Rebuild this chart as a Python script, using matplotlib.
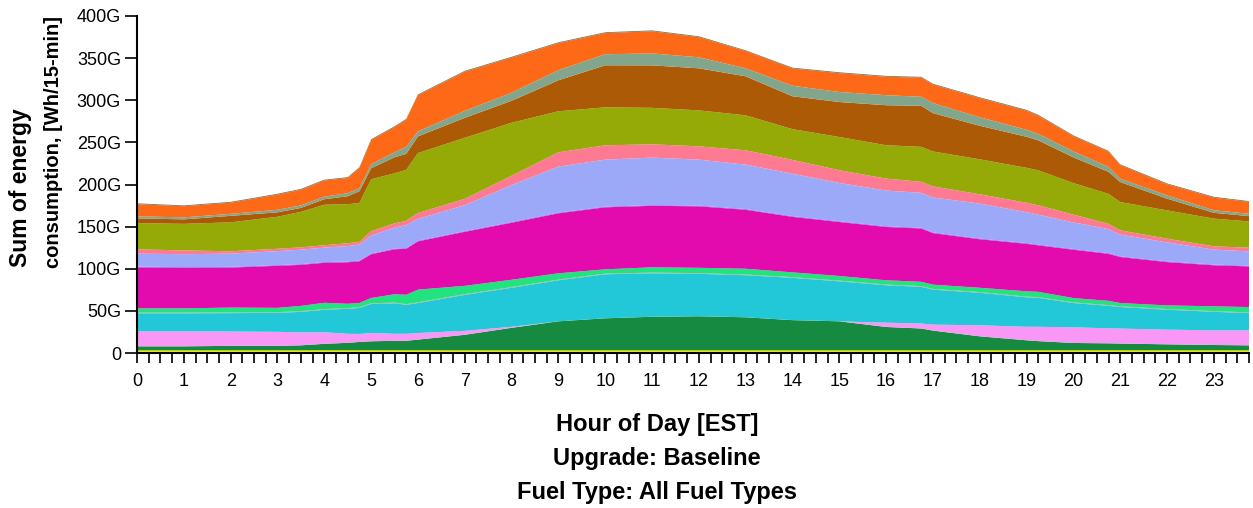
import matplotlib
matplotlib.use("Agg")
import matplotlib.pyplot as plt
from matplotlib.ticker import MultipleLocator, FuncFormatter
from matplotlib import font_manager

plt.rcParams['font.family'] = ['Liberation Sans', 'DejaVu Sans']

# hour of day (EST)
hours = [0, 1, 2, 3, 3.5, 4, 4.5, 4.75, 5, 5.5, 5.75, 6, 7, 8, 9, 10, 11, 12,
         13, 14, 15, 16, 16.75, 17, 18, 19, 19.25, 20, 20.75, 21, 22, 23, 23.75]

# energy per end use, G Wh / 15 min, bottom to top
blue = [1.2, 1.2, 1.2, 1.2, 1.2, 1.2, 1.2, 1.2, 1.2, 1.2, 1.2, 1.2, 1.2, 1.2, 1.2, 1.2, 1.2,
        1.2, 1.2, 1.2, 1.2, 1.2, 1.2, 1.2, 1.2, 1.2, 1.2, 1.2, 1.2, 1.2, 1.2, 1.2, 1.2]
yellow = [2.0, 2.0, 2.0, 2.0, 2.0, 2.0, 2.0, 2.0, 2.0, 2.0, 2.0, 2.0, 2.0, 2.0, 2.0, 2.0, 2.0,
          2.0, 2.0, 2.0, 2.0, 2.0, 2.0, 2.0, 2.0, 2.0, 2.0, 2.0, 2.0, 2.0, 2.0, 2.0, 2.0]
dark_green = [4.7, 4.7, 5.3, 5.3, 5.9, 7.7, 8.9, 9.9, 10.7, 11.3, 11.3, 12.7, 18.4, 26.7, 34.4, 38.0, 39.8,
              40.4, 39.2, 35.8, 34.4, 27.7, 25.9, 23.4, 16.6, 11.9, 10.9, 8.7, 8.3, 8.0, 7.1, 6.3, 5.9]
light_pink = [17.8, 17.8, 17.0, 16.6, 15.4, 13.7, 10.7, 9.5, 9.9, 8.3, 8.3, 7.8, 4.7, 1.2, 0, 0, 0,
              0, 0, 0, 0, 5.1, 5.9, 7.1, 13.1, 16.0, 17.0, 18.6, 17.8, 17.8, 17.4, 17.4, 17.8]
cyan = [21.4, 21.4, 21.8, 22.6, 24.3, 26.7, 29.7, 30.9, 34.4, 36.2, 34.4, 35.6, 42.7, 46.3, 48.7, 52.2, 51.6,
        50.4, 49.9, 50.2, 47.5, 44.4, 43.6, 41.5, 38.6, 35.0, 34.4, 28.8, 26.7, 25.6, 23.7, 22.0, 20.5]
tan = [0.8, 0.8, 0.8, 0.8, 0.8, 0.8, 0.8, 0.8, 0.8, 0.8, 0.8, 0.8, 0.8, 0.8, 0.8, 0.8, 0.8,
       0.8, 0.8, 0.8, 0.8, 0.8, 0.8, 0.8, 0.8, 0.8, 0.8, 0.8, 0.8, 0.8, 0.8, 0.8, 0.8]
green = [5.1, 5.1, 5.8, 5.1, 6.3, 7.5, 5.1, 5.1, 6.3, 9.9, 11.1, 15.1, 9.9, 8.7, 7.5, 5.1, 6.3,
         6.3, 6.9, 5.7, 5.5, 5.1, 5.1, 5.1, 5.1, 6.3, 6.3, 5.1, 5.1, 3.9, 4.3, 5.7, 6.3]
magenta = [48.7, 48.1, 47.5, 49.9, 48.7, 47.5, 49.3, 49.5, 51.9, 53.4, 54.6, 57.3, 64.1, 67.7, 71.2, 73.6, 73.0,
           73.0, 70.0, 65.9, 64.1, 63.3, 63.3, 61.2, 57.6, 56.4, 55.2, 57.4, 55.8, 54.6, 51.4, 48.7, 48.3]
purple = [0.8, 0.8, 0.8, 0.8, 0.8, 0.8, 0.8, 0.8, 0.8, 0.8, 0.8, 0.8, 0.8, 0.8, 0.8, 0.8, 0.8,
          0.8, 0.8, 0.8, 0.8, 0.8, 0.8, 0.8, 0.8, 0.8, 0.8, 0.8, 0.8, 0.8, 0.8, 0.8, 0.8]
lavender = [15.4, 15.4, 15.7, 16.6, 17.2, 17.2, 18.4, 19.0, 21.4, 24.9, 27.3, 25.8, 30.9, 43.9, 54.6, 55.8, 56.4,
            54.6, 52.8, 50.4, 45.5, 42.4, 41.5, 41.5, 41.5, 36.8, 35.6, 31.6, 28.5, 25.8, 22.6, 17.8, 17.0]
salmon = [5.1, 4.5, 2.8, 2.8, 2.8, 2.8, 3.4, 3.1, 5.1, 5.1, 5.1, 7.0, 7.5, 11.1, 17.0, 17.0, 15.8,
          15.8, 17.0, 16.4, 15.1, 14.2, 13.1, 13.1, 11.1, 11.1, 11.1, 9.2, 6.3, 5.1, 4.4, 3.9, 4.4]
olive = [31.2, 31.5, 34.4, 38.0, 42.1, 48.1, 46.3, 46.3, 61.7, 59.4, 60.5, 71.2, 72.4, 62.9, 48.7, 45.1, 43.3,
         42.7, 41.5, 36.5, 39.5, 39.6, 41.5, 41.5, 41.5, 41.5, 41.5, 37.5, 35.6, 33.6, 33.6, 32.9, 31.2]
brown = [5.6, 5.3, 7.7, 5.3, 4.7, 6.5, 9.5, 13.9, 13.1, 19.0, 19.0, 19.8, 23.7, 26.1, 36.8, 49.9, 50.4,
         49.9, 46.3, 39.0, 41.5, 47.5, 48.7, 45.5, 39.8, 36.8, 35.6, 30.5, 26.1, 23.7, 13.9, 6.9, 6.3]
grey_green = [2.4, 2.4, 2.4, 3.0, 3.0, 3.0, 3.6, 3.6, 4.7, 5.9, 8.3, 5.9, 8.3, 9.5, 11.9, 13.1, 14.2,
              13.1, 9.5, 12.5, 11.9, 11.9, 10.7, 11.9, 10.1, 8.3, 7.7, 7.1, 5.9, 4.0, 3.9, 3.0, 2.8]
orange = [14.4, 13.2, 13.2, 18.0, 18.6, 19.2, 18.0, 23.9, 28.7, 29.9, 32.2, 42.9, 46.5, 41.7, 32.2, 25.1, 26.3,
          23.9, 20.4, 20.5, 22.4, 21.9, 22.7, 22.0, 22.7, 22.7, 21.6, 18.0, 18.0, 16.0, 13.2, 15.0, 14.0]
top = [1.0, 1.0, 1.0, 1.0, 1.0, 1.0, 1.0, 1.0, 1.0, 1.0, 1.0, 1.0, 1.0, 1.0, 1.0, 1.0, 1.0,
       1.0, 1.0, 1.0, 1.0, 1.0, 1.0, 1.0, 1.0, 1.0, 1.0, 1.0, 1.0, 1.0, 1.0, 1.0, 1.0]

layers = [blue, yellow, dark_green, light_pink, cyan, tan, green, magenta, purple,
          lavender, salmon, olive, brown, grey_green, orange, top]
colors = ['#3464C8', '#F0F020', '#178A41', '#F897F5', '#22C8D7', '#A8A88A', '#22E37D',
          '#E30BAE', '#8A58EE', '#9CA9F8', '#FE7A93', '#95AA06', '#AC5A05', '#82A68B',
          '#FD6916', '#7A765A']

fig = plt.figure(figsize=(12.53, 5.08), dpi=100)
ax = fig.add_axes([137 / 1253, 155 / 508, 1112 / 1253, 337 / 508])
ax.stackplot(hours, *layers, colors=colors, linewidth=0)

ax.set_xlim(0, 23.75)
ax.set_ylim(0, 400)
ax.xaxis.set_major_locator(MultipleLocator(1))
ax.xaxis.set_minor_locator(MultipleLocator(0.25))
ax.yaxis.set_major_locator(MultipleLocator(50))
ax.yaxis.set_major_formatter(FuncFormatter(lambda v, p: '0' if v == 0 else f'{v:.0f}G'))

for s in ['top', 'right']:
    ax.spines[s].set_visible(False)
for s in ['left', 'bottom']:
    ax.spines[s].set_linewidth(1.5)
ax.tick_params(axis='x', which='both', direction='out', length=7.5, width=1.2, labelsize=13, pad=7)
ax.tick_params(axis='y', which='major', direction='out', length=8.5, width=1.2, labelsize=13, pad=3)

for txt, yy in [('Hour of Day [EST]', 424), ('Upgrade: Baseline', 458),
                ('Fuel Type: All Fuel Types', 492)]:
    fig.text(657 / 1253, 1 - yy / 508, txt, ha='center', va='center',
             fontsize=17, fontweight='bold')

# y title: second line is set narrower in the reference
installed = {f.name for f in font_manager.fontManager.ttflist}
narrow = 'Liberation Sans Narrow' in installed
fig.text(21 / 1253, 1 - 267 / 508, 'Sum of energy', rotation=90,
         ha='center', va='bottom', fontsize=16.5, fontweight='bold')
fig.text(54 / 1253, 1 - 268 / 508, 'consumption, [Wh/15-min]', rotation=90,
         ha='center', va='bottom', fontweight='bold',
         fontsize=16.5 if narrow else 14.5,
         family=['Liberation Sans Narrow', 'Liberation Sans'] if narrow else ['Liberation Sans'])

fig.savefig('out.png', dpi=100)
